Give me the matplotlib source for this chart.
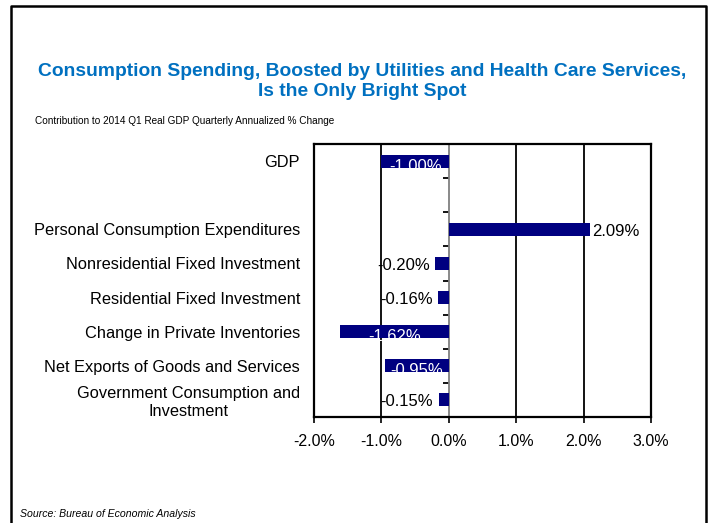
import numpy as np
import matplotlib.pyplot as plt
from matplotlib.lines import Line2D

plt.rcParams['font.family'] = ['Liberation Sans', 'DejaVu Sans']

categories = ['GDP', '', 'Personal Consumption Expenditures',
              'Nonresidential Fixed Investment', 'Residential Fixed Investment',
              'Change in Private Inventories', 'Net Exports of Goods and Services',
              'Government Consumption and\nInvestment']
values = [-1.00, np.nan, 2.09, -0.20, -0.16, -1.62, -0.95, -0.15]
xticks = [-2, -1, 0, 1, 2, 3]

navy = '#000080'
blue = '#0070C0'

fig = plt.figure(figsize=(7.09, 5.23), dpi=100)
ax = fig.add_axes([314 / 709, 1 - 417 / 523, 337 / 709, 273 / 523])

y = np.arange(len(categories))
ax.barh(y, values, height=0.38, color=navy, zorder=3)

xmin, xmax = -2, 3
ax.set_xlim(xmin, xmax)
ax.set_ylim(len(categories) - 0.5, -0.5)
ax.set_xticks(xticks)
ax.set_xticklabels(['{:.1f}%'.format(t) for t in xticks], fontsize=11.5)
ax.set_yticks(y)
ax.set_yticklabels(categories, fontsize=11.8, ha='right', multialignment='center',
                   linespacing=1.25)
ax.tick_params(axis='y', length=0, pad=10)
ax.tick_params(axis='x', length=4, width=1.2, direction='out', pad=8)
for t in [-1, 1, 2]:
    ax.axvline(t, color='black', lw=1.3, zorder=1)
for s in ax.spines.values():
    s.set_linewidth(1.6)

# zero axis with small ticks between the categories
frac = (0 - xmin) / (xmax - xmin)
sec = ax.secondary_yaxis(frac)
sec.set_yticks(np.arange(len(categories) + 1) - 0.5)
sec.set_yticklabels([])
sec.spines['left'].set_color('gray')
sec.spines['left'].set_linewidth(1.3)
sec.tick_params(color='black', length=4, width=1.3)

for yi, v in zip(y, values):
    if np.isnan(v):
        continue
    lab = '{:.2f}%'.format(v)
    if v > 0:
        ax.text(v + 0.03, yi + 0.05, lab, va='center', ha='left', fontsize=12, zorder=4)
    elif v > -0.5:
        ax.text(v - 0.08, yi + 0.05, lab, va='center', ha='right', fontsize=12, zorder=4)
    else:
        ax.text(v / 2, yi + 0.15, lab, va='center', ha='center', fontsize=12,
                color='white', zorder=4)

fig.text(0.511, 1 - 71 / 523,
         'Consumption Spending, Boosted by Utilities and Health Care Services,',
         ha='center', va='center', fontsize=13.9, fontweight='bold', color=blue)
fig.text(0.511, 1 - 91 / 523, 'Is the Only Bright Spot',
         ha='center', va='center', fontsize=13.9, fontweight='bold', color=blue)
fig.text(35 / 709, 1 - 121 / 523,
         'Contribution to 2014 Q1 Real GDP Quarterly Annualized % Change',
         ha='left', va='center', fontsize=7.2)
fig.text(20 / 709, 1 - 514 / 523, 'Source: Bureau of Economic Analysis',
         ha='left', va='center', fontsize=7.6, style='italic')

# frame around the slide
x0, x1, yt = 11 / 709, 706 / 709, 1 - 6 / 523
fig.add_artist(Line2D([x0, x0, x1, x1], [0, yt, yt, 0], color='black', lw=1.8,
                      transform=fig.transFigure))

fig.savefig('out.png', dpi=100)
